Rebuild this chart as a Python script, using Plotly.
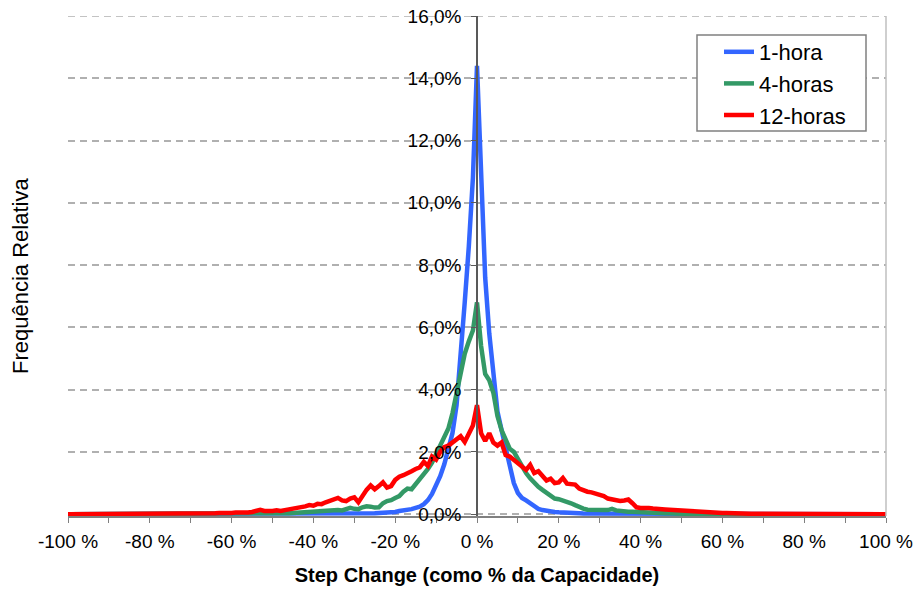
import plotly.graph_objects as go

# ---------------- data (values in % of occurrences) ----------------
step_change = [-100] + list(range(-80, 81)) + [100]

freq_1h = [
    0.0,
    # -80 .. -71
    0, 0, 0, 0, 0, 0, 0, 0, 0, 0,
    # -70 .. -61
    0, 0, 0, 0, 0, 0, 0, 0, 0, 0,
    # -60 .. -51
    0, 0, 0, 0, 0, 0, 0, 0, 0, 0,
    # -50 .. -41
    0, 0, 0, 0, 0, 0, 0, 0, 0, 0,
    # -40 .. -31
    0, 0, 0, 0, 0, 0, 0, 0, 0, 0.01,
    # -30 .. -21
    0.01, 0.01, 0.02, 0.02, 0.03, 0.03, 0.04, 0.04, 0.05, 0.06,
    # -20 .. -11
    0.07, 0.10, 0.11, 0.13, 0.16, 0.20, 0.24, 0.32, 0.45, 0.65,
    # -10 .. -1
    0.90, 1.22, 1.60, 2.10, 2.60, 3.50, 5.00, 6.80, 8.60, 10.8,
    # 0
    14.4,
    # 1 .. 10
    10.5, 7.60, 5.80, 4.60, 3.30, 2.70, 2.10, 1.50, 1.00, 0.68,
    # 11 .. 20
    0.52, 0.44, 0.35, 0.23, 0.17, 0.13, 0.10, 0.08, 0.07, 0.06,
    # 21 .. 30
    0.06, 0.05, 0.04, 0.03, 0.03, 0.02, 0.02, 0.01, 0.01, 0.01,
    # 31 .. 40
    0, 0, 0, 0, 0, 0, 0, 0, 0, 0,
    # 41 .. 50
    0, 0, 0, 0, 0, 0, 0, 0, 0, 0,
    # 51 .. 60
    0, 0, 0, 0, 0, 0, 0, 0, 0, 0,
    # 61 .. 70
    0, 0, 0, 0, 0, 0, 0, 0, 0, 0,
    # 71 .. 80
    0, 0, 0, 0, 0, 0, 0, 0, 0, 0,
    0.0,
]

freq_4h = [
    0.0,
    # -80 .. -71
    0, 0, 0, 0, 0, 0, 0, 0, 0, 0,
    # -70 .. -61
    0, 0, 0, 0, 0, 0, 0, 0, 0, 0,
    # -60 .. -51
    0, 0, 0, 0, 0, 0, 0, 0, 0, 0.01,
    # -50 .. -41
    0.01, 0.01, 0.02, 0.03, 0.03, 0.04, 0.05, 0.06, 0.07, 0.07,
    # -40 .. -31
    0.08, 0.08, 0.09, 0.10, 0.11, 0.12, 0.13, 0.12, 0.15, 0.20,
    # -30 .. -21
    0.17, 0.16, 0.22, 0.25, 0.24, 0.21, 0.22, 0.35, 0.42, 0.45,
    # -20 .. -11
    0.52, 0.58, 0.72, 0.82, 0.80, 0.95, 1.12, 1.28, 1.45, 1.65,
    # -10 .. -1
    1.92, 2.20, 2.43, 2.75, 3.24, 3.85, 4.60, 5.15, 5.55, 5.90,
    # 0
    6.80,
    # 1 .. 10
    5.40, 4.50, 4.30, 3.90, 3.15, 2.70, 2.35, 2.10, 2.00, 1.75,
    # 11 .. 20
    1.55, 1.32, 1.15, 1.00, 0.88, 0.78, 0.70, 0.62, 0.50, 0.48,
    # 21 .. 30
    0.44, 0.42, 0.35, 0.29, 0.22, 0.18, 0.14, 0.13, 0.13, 0.12,
    # 31 .. 40
    0.13, 0.13, 0.17, 0.12, 0.10, 0.09, 0.08, 0.08, 0.07, 0.06,
    # 41 .. 50
    0.06, 0.05, 0.05, 0.04, 0.04, 0.03, 0.03, 0.02, 0.02, 0.01,
    # 51 .. 60
    0.01, 0.01, 0, 0, 0, 0, 0, 0, 0, 0,
    # 61 .. 70
    0, 0, 0, 0, 0, 0, 0, 0, 0, 0,
    # 71 .. 80
    0, 0, 0, 0, 0, 0, 0, 0, 0, 0,
    0.0,
]

freq_12h = [
    0.0,
    # -80 .. -71
    0, 0, 0, 0, 0.01, 0.01, 0.01, 0.02, 0.01, 0.02,
    # -70 .. -61
    0.02, 0.01, 0.02, 0.03, 0.02, 0.03, 0.03, 0.04, 0.03, 0.05,
    # -60 .. -51
    0.04, 0.05, 0.04, 0.06, 0.05, 0.07, 0.10, 0.14, 0.10, 0.09,
    # -50 .. -41
    0.10, 0.12, 0.10, 0.13, 0.15, 0.18, 0.20, 0.23, 0.25, 0.29,
    # -40 .. -31
    0.27, 0.33, 0.32, 0.38, 0.42, 0.48, 0.52, 0.44, 0.42, 0.50,
    # -30 .. -21
    0.54, 0.38, 0.60, 0.78, 0.92, 0.80, 0.90, 1.02, 0.85, 0.90,
    # -20 .. -11
    1.10, 1.20, 1.25, 1.30, 1.38, 1.45, 1.50, 1.68, 1.55, 1.85,
    # -10 .. -1
    1.75, 2.00, 2.15, 2.20, 2.30, 2.40, 2.50, 2.32, 2.55, 2.85,
    # 0
    3.50,
    # 1 .. 10
    2.60, 2.35, 2.60, 2.30, 2.20, 2.30, 1.90, 1.85, 1.75, 1.65,
    # 11 .. 20
    1.55, 1.42, 1.58, 1.32, 1.38, 1.20, 1.08, 1.14, 1.00, 1.02,
    # 21 .. 30
    1.16, 0.98, 0.98, 0.95, 0.82, 0.76, 0.72, 0.70, 0.66, 0.62,
    # 31 .. 40
    0.58, 0.50, 0.48, 0.44, 0.42, 0.44, 0.47, 0.35, 0.22, 0.20,
    # 41 .. 50
    0.21, 0.20, 0.18, 0.16, 0.17, 0.15, 0.14, 0.13, 0.12, 0.13,
    # 51 .. 60
    0.11, 0.10, 0.09, 0.08, 0.08, 0.07, 0.06, 0.05, 0.05, 0.04,
    # 61 .. 70
    0.04, 0.03, 0.03, 0.02, 0.02, 0.01, 0.01, 0.01, 0.01, 0,
    # 71 .. 80
    0, 0, 0, 0, 0, 0, 0, 0, 0, 0,
    0.0,
]

series_names = ["1-hora", "4-horas", "12-horas"]
series_colors = ["#3366FF", "#339966", "#FF0000"]

y_ticks = [0, 2, 4, 6, 8, 10, 12, 14, 16]
y_tick_labels = ["0,0%", "2,0%", "4,0%", "6,0%", "8,0%", "10,0%", "12,0%", "14,0%", "16,0%"]
x_ticks = [-100, -80, -60, -40, -20, 0, 20, 40, 60, 80, 100]
x_tick_labels = ["-100 %", "-80 %", "-60 %", "-40 %", "-20 %", "0 %", "20 %", "40 %", "60 %", "80 %", "100 %"]

# ---------------- figure ----------------
FONT = "Liberation Sans, Arial, sans-serif"
fig = go.Figure()
for name, vals, col, grp in zip(series_names, [freq_1h, freq_4h, freq_12h], series_colors, ["a", "b", "c"]):
    fig.add_trace(go.Scatter(
        x=step_change, y=vals, mode="lines", name=name, legendgroup=grp,
        line=dict(color=col, width=4.5),
    ))

# plot area pixel geometry: x 68..886, y 16..516
def px_x(p):
    return (p - 68) / 818.0

def px_y(p):
    return (516 - p) / 500.0

fig.update_layout(
    width=917, height=591,
    margin=dict(l=68, r=31, t=16, b=75),
    paper_bgcolor="white", plot_bgcolor="white",
    font=dict(family=FONT, color="black"),
    showlegend=True,
    legend=dict(
        x=px_x(719), y=px_y(31), xanchor="left", yanchor="top",
        bgcolor="rgba(0,0,0,0)", borderwidth=0,
        font=dict(size=22, family=FONT), tracegroupgap=0,
    ),
    xaxis=dict(
        range=[-100, 100], tickvals=x_ticks, ticktext=x_tick_labels,
        ticks="outside", ticklen=5, tickcolor="#808080", tickwidth=1,
        showline=True, linecolor="#808080", linewidth=1.5,
        showgrid=False, zeroline=False,
        tickfont=dict(size=19, family=FONT), ticklabelstandoff=2,
        minor=dict(dtick=10, tick0=0, ticks="outside", ticklen=5,
                   tickcolor="#808080", showgrid=False),
        title=dict(text="<b>Step Change (como % da Capacidade)</b>",
                   font=dict(size=20, family=FONT), standoff=17),
        automargin=False,
    ),
    yaxis=dict(
        range=[-0.06, 16], tickvals=y_ticks, ticktext=y_tick_labels,
        anchor="free", position=0.5,
        showline=True, linecolor="#595959", linewidth=1.5,
        ticks="outside", ticklen=5, tickcolor="#595959",
        showgrid=True, gridcolor="#B0B0B0", gridwidth=1.5, griddash="7px,5px",
        zeroline=False, tickfont=dict(size=19, family=FONT),
        ticklabelstandoff=6, automargin=False,
    ),
    yaxis2=dict(
        overlaying="y", anchor="free", position=0, side="left",
        range=[-0.06, 16], tickvals=y_ticks, ticks="inside", ticklen=4,
        tickcolor="#BFBFBF", showline=True, linecolor="#BFBFBF", linewidth=1.5,
        showticklabels=False, showgrid=False, zeroline=False,
    ),
    shapes=[
        dict(type="line", xref="paper", yref="paper", x0=1, x1=1, y0=0, y1=1,
             line=dict(color="#BFBFBF", width=1.5), layer="above"),
        dict(type="line", xref="paper", yref="y", x0=0, x1=1, y0=16, y1=16,
             line=dict(color="#B0B0B0", width=1.5, dash="7px,5px"), layer="below"),
        dict(type="rect", xref="paper", yref="paper",
             x0=px_x(697), x1=px_x(866), y0=px_y(131), y1=px_y(35),
             fillcolor="white", line=dict(color="#808080", width=1.5), layer="above"),
    ],
    annotations=[
        dict(text="Frequência Relativa", xref="paper", yref="paper",
             x=px_x(20), y=0.48, xanchor="center", yanchor="middle",
             textangle=-90, showarrow=False, font=dict(size=22, family=FONT)),
    ],
)

fig.write_html("out.html")
